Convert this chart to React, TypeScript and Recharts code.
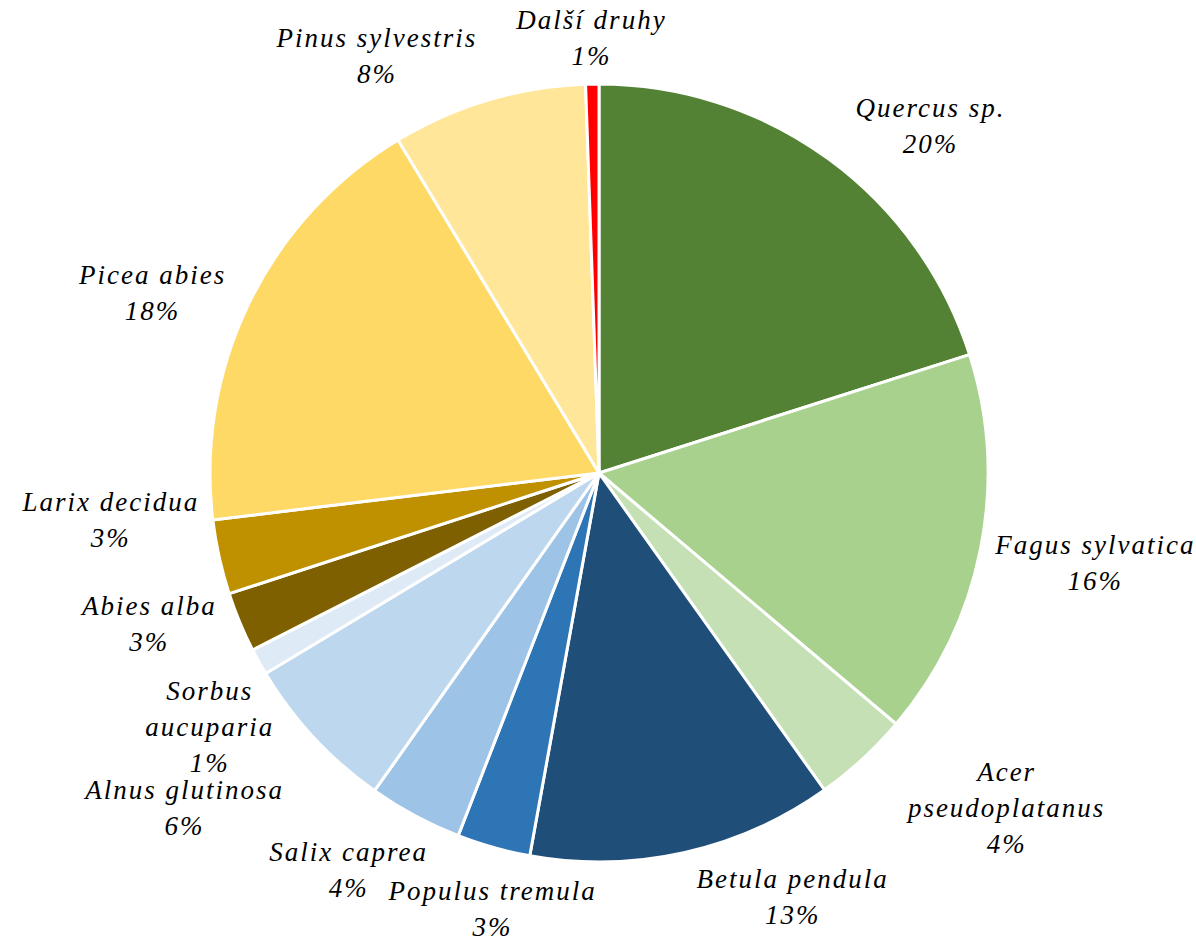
import React from 'react';
import { PieChart, Pie, Cell } from 'recharts';

const SPECIES = [
  'Quercus sp.',
  'Fagus sylvatica',
  'Acer pseudoplatanus',
  'Betula pendula',
  'Populus tremula',
  'Salix caprea',
  'Alnus glutinosa',
  'Sorbus aucuparia',
  'Abies alba',
  'Larix decidua',
  'Picea abies',
  'Pinus sylvestris',
  'Další druhy',
];
const SHARES = [20.1, 16.1, 4.0, 12.7, 3.05, 3.9, 6.6, 1.1, 2.5, 3.1, 18.3, 8.1, 0.55];
const SHARE_LABELS = ['20%', '16%', '4%', '13%', '3%', '4%', '6%', '1%', '3%', '3%', '18%', '8%', '1%'];
const COLORS = [
  '#548235', '#A9D18E', '#C5E0B4', '#1F4E79', '#2E75B6', '#9DC3E6', '#BDD7EE',
  '#DEEBF7', '#7F6000', '#BF9000', '#FFD966', '#FFE699', '#FF0000',
];
const WRAPPED = ['Acer pseudoplatanus', 'Sorbus aucuparia'];
// best-fit nudges for the labels: angle (deg, clockwise +) and extra distance (px)
const LABEL_SHIFT = [7.5, -1, -8, -12, -2, 4, 4, -4, 4, 7, -4, -11.5, 0];
const LABEL_PUSH = [4, 0, 18, 0, 0, 0, 34, -18, 0, 0, 0, 0, 0];

const data = SPECIES.map((name, i) => ({ name, value: SHARES[i], pct: SHARE_LABELS[i] }));

const FONT_SIZE = 27;
const SPACING = 2;
const LINE_H = 36;
const FAMILY = "'Liberation Serif'";
const RAD = Math.PI / 180;

let ctx: CanvasRenderingContext2D | null = null;
function textWidth(s: string) {
  if (!ctx) ctx = document.createElement('canvas').getContext('2d');
  if (!ctx) return s.length * FONT_SIZE * 0.45;
  ctx.font = `italic ${FONT_SIZE}px ${FAMILY}`;
  return ctx.measureText(s).width + SPACING * s.length;
}

// push the label box out along its angle until it clears the pie
function renderLabel(props: any) {
  const { cx, cy, midAngle, outerRadius, index } = props;
  const name = SPECIES[index];
  const lines = WRAPPED.includes(name) ? name.split(' ') : [name];
  lines.push(SHARE_LABELS[index]);
  const w = Math.max(...lines.map(textWidth));
  const h = lines.length * LINE_H;
  const a = (midAngle - LABEL_SHIFT[index]) * RAD;
  const dx = Math.cos(-a);
  const dy = Math.sin(-a);
  const clear = outerRadius + 10;
  let t = outerRadius * 0.6;
  for (let k = 0; k < 600; k++) {
    const nx = Math.max(Math.abs(t * dx) - w / 2, 0);
    const ny = Math.max(Math.abs(t * dy) - h / 2, 0);
    if (Math.hypot(nx, ny) >= clear) break;
    t += 1;
  }
  t += LABEL_PUSH[index];
  const x = cx + t * dx;
  const top = cy + t * dy - h / 2;
  return (
    <g key={`lbl-${index}`}>
      <text
        x={x}
        y={top}
        textAnchor="middle"
        fill="#000"
        style={{ fontFamily: FAMILY, fontStyle: 'italic', fontSize: FONT_SIZE, letterSpacing: SPACING }}
      >
        {lines.map((ln, i) => (
          <tspan key={i} x={x} y={top + LINE_H * (i + 0.76)}>
            {ln}
          </tspan>
        ))}
      </text>
    </g>
  );
}

export default function App() {
  return (
    <div style={{ position: 'absolute', left: 0, top: 0, width: 1196, height: 941, background: '#fff' }}>
      <PieChart width={1196} height={941} margin={{ top: 0, right: 0, bottom: 0, left: 0 }}>
        <Pie
          data={data}
          dataKey="value"
          nameKey="name"
          cx={599}
          cy={473}
          outerRadius={389}
          startAngle={90}
          endAngle={-270}
          stroke="#fff"
          strokeWidth={3}
          label={renderLabel}
          labelLine={false}
          isAnimationActive={false}
        >
          {data.map((entry, index) => (
            <Cell key={`cell-${index}`} fill={COLORS[index % COLORS.length]} />
          ))}
        </Pie>
      </PieChart>
    </div>
  );
}
